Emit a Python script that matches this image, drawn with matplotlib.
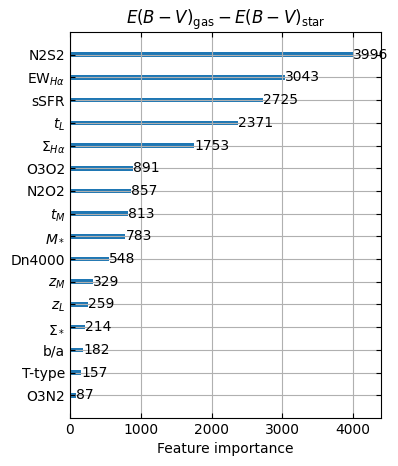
import numpy as np
import matplotlib
matplotlib.use("Agg")
import matplotlib.pyplot as plt

# feature names, bottom to top as drawn
features = ["O3N2", "T-type", "b/a", r"$\Sigma_*$", r"$z_L$", r"$z_M$", "Dn4000",
            r"$M_*$", r"$t_M$", "N2O2", "O3O2", r"$\Sigma_{H\alpha}$", r"$t_L$",
            "sSFR", r"EW$_{H\alpha}$", "N2S2"]
importance = [87, 157, 182, 214, 259, 329, 548, 783, 813, 857, 891, 1753, 2371,
              2725, 3043, 3996]

plt.rcParams["xtick.direction"] = "in"
plt.rcParams["ytick.direction"] = "in"
plt.rcParams["xtick.top"] = True
plt.rcParams["ytick.right"] = True

fig = plt.figure(figsize=(3.98, 4.66), dpi=100)
ax = fig.add_axes([70 / 398, 1 - 418 / 466, 311 / 398, 386 / 466])

ylocs = np.arange(len(importance))
ax.barh(ylocs, importance, align="center", height=0.2)
for x, y in zip(importance, ylocs):
    ax.text(x + 1, y, str(x), va="center")

ax.set_yticks(ylocs)
ax.set_yticklabels(features)
ax.set_xlim(0, max(importance) * 1.1)
ax.set_ylim(-1, len(importance))
ax.grid(True)
ax.set_xlabel("Feature importance")
ax.set_title(r"$E(B-V)_{\rm gas} - E(B-V)_{\rm star}$", fontsize=12)

fig.savefig("out.png", dpi=100)
